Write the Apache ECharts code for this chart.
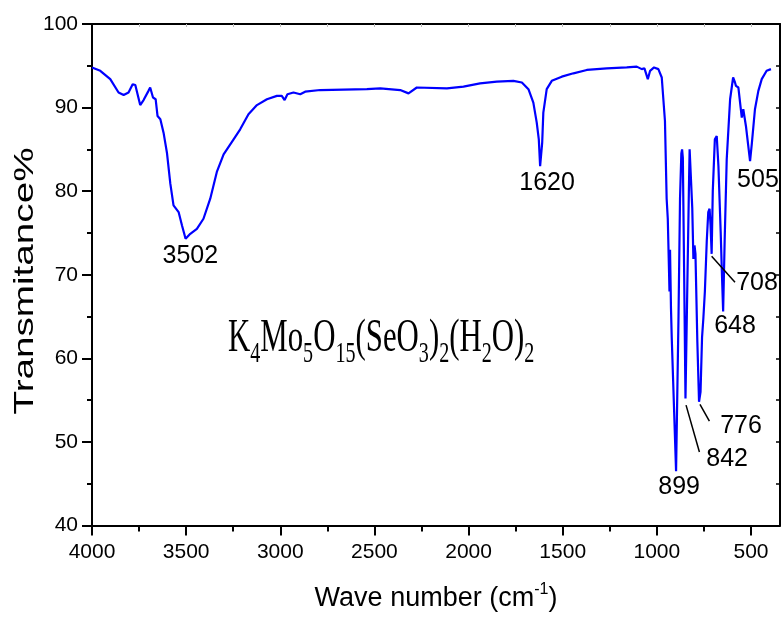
<!DOCTYPE html>
<html>
<head>
<meta charset="utf-8">
<script src="https://cdn.jsdelivr.net/npm/echarts@6/dist/echarts.min.js"></script>
<style>
html,body{margin:0;padding:0;background:#fff}
#main{width:782px;height:617px}
</style>
</head>
<body>
<div id="main"></div>
<script>
// wave number (cm-1) and transmittance (%)
var wavenumber = [4000,3956,3903,3859,3832,3806,3784,3770,3744,3726,3700,3691,3676,3662,3652,3637,3620,3602,3584,3567,3540,3522,3503,3478,3443,3408,3372,3337,3301,3248,3213,3169,3124,3071,3018,2992,2977,2962,2930,2894,2868,2788,2540,2469,2363,2319,2275,2115,2027,1939,1850,1762,1717,1682,1656,1638,1627,1620,1609,1603,1585,1558,1505,1443,1372,1266,1160,1107,1080,1066,1048,1036,1015,992,974,957,948,942,936,933,930,925,921,898,885,877,870,866,862,855,848,838,830,826,820,812,806,800,795,785,776,768,760,753,745,735,727,720,715,709,703,692,682,673,661,655,648,640,629,611,595,585,580,567,555,549,541,527,515,505,496,479,461,443,417,394];
var transmit = [94.8,94.4,93.4,91.8,91.5,91.8,92.8,92.7,90.3,90.9,92.0,92.4,91.2,91.0,89.0,88.6,87.0,84.6,80.9,78.3,77.5,75.9,74.3,74.9,75.5,76.7,79.1,82.3,84.4,86.2,87.4,89.2,90.3,91.0,91.4,91.4,90.9,91.6,91.8,91.6,91.9,92.1,92.2,92.3,92.1,91.7,92.4,92.3,92.5,92.9,93.1,93.2,93.0,92.2,90.6,88.2,86.2,83.0,85.8,89.4,92.2,93.2,93.7,94.1,94.5,94.7,94.8,94.9,94.6,94.7,93.4,94.4,94.8,94.6,93.6,88.4,79.1,76.7,71.0,68.0,73.0,66.0,62.5,46.5,65.0,79.1,84.5,85.0,84.0,70.0,55.2,55.0,80.0,85.0,84.8,78.0,71.9,73.5,72.5,62.0,54.8,56.0,62.5,64.8,68.0,74.0,77.5,77.9,76.0,72.5,80.0,86.2,86.6,83.0,75.1,70.5,65.6,74.0,83.8,91.0,93.6,93.0,92.6,92.4,90.0,88.8,89.8,87.8,85.5,83.6,85.6,89.8,92.0,93.4,94.4,94.6];

var xMajor = [500,1000,1500,2000,2500,3000,3500,4000];
var xMinor = [750,1250,1750,2250,2750,3250,3750];
var xTop = [500,750,1000,1250,1500,1750,2000,2250,2500,2750,3000,3250,3500,3750];

// peak labels: text and where it sits (wave number, transmittance)
var peakText = ['3502','1620','505','708','648','776','842','899'];
var peakAt = [[3478,72.2],[1583,81.0],[463,81.3],[468,69.0],[585,63.9],[553,51.9],[627,47.9],[882,44.6]];
// leader lines for the crowded peaks
var leaderFrom = [[709,72.2],[771,54.5],[845,54.4]];
var leaderTo = [[585,69.1],[721,52.5],[774,48.8]];

// formula pieces, 1 = subscript
var formulaText = ['K','4','Mo','5','O','15','(SeO','3',')','2','(H','2','O)','2'];
var formulaSub = [0,1,0,1,0,1,0,1,0,1,0,1,0,1];

var sans = 'Arial, "Liberation Sans", sans-serif';
var serifName = '"Times New Roman", "Liberation Serif", serif';

var pts = [];
for (var i = 0; i < wavenumber.length; i++) pts.push([wavenumber[i], transmit[i]]);

var marks = [];
for (var j = 0; j < peakText.length; j++) marks.push({name: peakText[j], coord: peakAt[j]});
var leaders = [];
for (var k = 0; k < leaderFrom.length; k++) leaders.push([{coord: leaderFrom[k]}, {coord: leaderTo[k]}]);

//化学式：逐段测宽再排
var mainFont = '46px ' + serifName, subFont = '30px ' + serifName;
var ctx = document.createElement('canvas').getContext('2d');
var fx = 0, formulaParts = [];
for (var f = 0; f < formulaText.length; f++) {
    var isSub = formulaSub[f] === 1;
    ctx.font = isSub ? subFont : mainFont;
    formulaParts.push({
        type: 'text', x: fx, y: isSub ? 7 : 0,
        style: {text: formulaText[f], font: isSub ? subFont : mainFont, fill: '#000', textAlign: 'left', textVerticalAlign: 'bottom'}
    });
    fx += ctx.measureText(formulaText[f]).width;
}

var plain = function(v){ return String(v); };

var myChart = echarts.init(document.getElementById('main'));
var option = {
    animation: false,
    backgroundColor: '#fff',
    grid: {left: 92, right: 2, top: 24, bottom: 89},
    xAxis: [
        {
            type: 'value', inverse: true, min: 346, max: 4000, position: 'bottom',
            axisLine: {show: true, lineStyle: {color: '#000', width: 2}},
            axisTick: {show: true, customValues: xMajor, length: 10, lineStyle: {color: '#000', width: 2}},
            axisLabel: {customValues: xMajor, formatter: plain, color: '#000', fontSize: 21, fontFamily: sans, margin: 16},
            splitLine: {show: false},
            name: '{a|Wave number (cm}{b|-1}{a|)}',
            nameLocation: 'middle', nameGap: 56,
            nameTextStyle: {
                color: '#000', fontFamily: sans, fontSize: 27,
                rich: {
                    a: {fontSize: 27, fontFamily: sans, color: '#000', lineHeight: 34},
                    b: {fontSize: 16, fontFamily: sans, color: '#000', lineHeight: 16, verticalAlign: 'top'}
                }
            }
        },
        {
            type: 'value', inverse: true, min: 346, max: 4000, position: 'bottom',
            axisLine: {show: false},
            axisTick: {show: true, customValues: xMinor, length: 6, lineStyle: {color: '#000', width: 2}},
            axisLabel: {show: false},
            splitLine: {show: false}
        },
        {
            type: 'value', inverse: true, min: 346, max: 4000, position: 'top',
            axisLine: {show: true, lineStyle: {color: '#000', width: 2}},
            axisTick: {show: true, inside: true, customValues: xTop, length: 3, lineStyle: {color: '#bbb', width: 1}},
            axisLabel: {show: false},
            splitLine: {show: false}
        }
    ],
    yAxis: [
        {
            type: 'value', min: 40, max: 100, interval: 10,
            axisLine: {show: true, lineStyle: {color: '#000', width: 2}},
            axisTick: {show: true, length: 10, lineStyle: {color: '#000', width: 2}},
            minorTick: {show: true, splitNumber: 2, length: 5, lineStyle: {color: '#000', width: 2}},
            axisLabel: {color: '#000', fontSize: 21, fontFamily: sans, margin: 14},
            splitLine: {show: false}
        },
        {
            type: 'value', min: 40, max: 100, interval: 5, position: 'right',
            axisLine: {show: true, lineStyle: {color: '#000', width: 2}},
            axisTick: {show: true, inside: true, length: 4, lineStyle: {color: '#000', width: 1.5}},
            axisLabel: {show: false},
            splitLine: {show: false}
        }
    ],
    series: [{
        type: 'line',
        xAxisIndex: 0, yAxisIndex: 0,
        data: pts,
        showSymbol: false,
        lineStyle: {color: '#0000ff', width: 2.2},
        itemStyle: {color: '#0000ff'},
        markPoint: {
            symbol: 'circle', symbolSize: 1,
            itemStyle: {color: 'rgba(0,0,0,0)'},
            label: {show: true, position: 'inside', formatter: '{b}', color: '#000', fontSize: 25, fontFamily: sans},
            data: marks
        },
        markLine: {
            silent: true,
            symbol: ['none', 'none'],
            lineStyle: {color: '#000', width: 1.5, type: 'solid'},
            label: {show: false},
            data: leaders
        }
    }],
    graphic: [
        {
            // y axis title, stretched along its length like the original
            type: 'text', x: 25, y: 281, rotation: Math.PI / 2, scaleX: 1.38,
            style: {
                text: 'Transmitance%', fill: '#000',
                font: '28px ' + sans,
                textAlign: 'center', textVerticalAlign: 'middle'
            }
        },
        {
            type: 'group', x: 228, y: 362, scaleX: 0.67,
            children: formulaParts
        }
    ]
};
if (option && typeof option === "object") {
    myChart.setOption(option, true);
}
</script>
</body>
</html>
